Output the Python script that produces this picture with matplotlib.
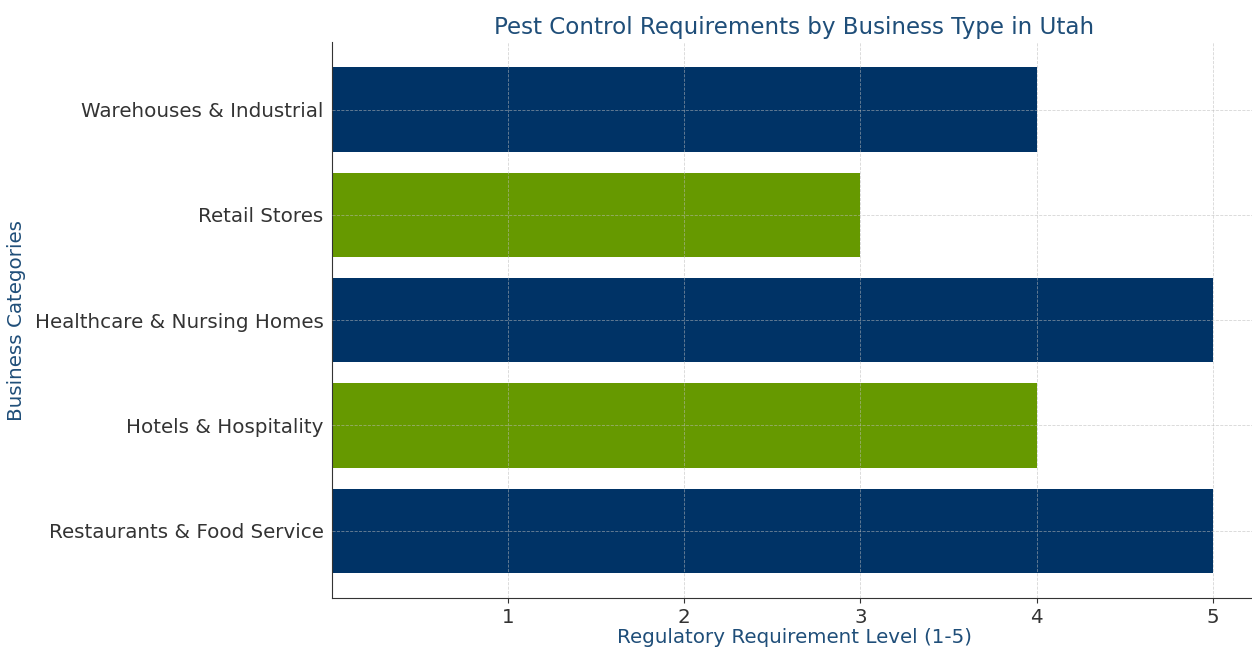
import matplotlib.pyplot as plt

# Data.
categories = ['Restaurants & Food Service', 'Hotels & Hospitality', 'Healthcare & Nursing Homes',
              'Retail Stores', 'Warehouses & Industrial']
levels = [5, 4, 5, 3, 4]
bar_colors = ['#003366', '#669900', '#003366', '#669900', '#003366']

title_color = '#1f4e79'

fig = plt.figure(figsize=(12.52, 6.48), dpi=100)
ax = fig.add_axes([0.265, 0.077, 0.739, 0.858])

ax.barh(categories, levels, color=bar_colors, height=0.8)
ax.set_xlim(0, 5.25)
ax.set_xticks([1, 2, 3, 4, 5])

# Faint dashed grid drawn over the bars.
ax.grid(True, linestyle='--', color='#bbbbbb', linewidth=0.6, alpha=0.6)
ax.set_axisbelow(False)

for side in ['top', 'right']:
    ax.spines[side].set_visible(False)
for side in ['left', 'bottom']:
    ax.spines[side].set_color('#333333')

ax.tick_params(axis='both', labelsize=14.3, colors='#333333')
ax.tick_params(axis='y', length=0, pad=6)

ax.set_title('Pest Control Requirements by Business Type in Utah', fontsize=16.6, color=title_color, pad=6)
ax.set_xlabel('Regulatory Requirement Level (1-5)', fontsize=14.3, color=title_color, labelpad=1)
ax.set_ylabel('Business Categories', fontsize=14.3, color=title_color, labelpad=6)

fig.savefig('out.png', dpi=100)
